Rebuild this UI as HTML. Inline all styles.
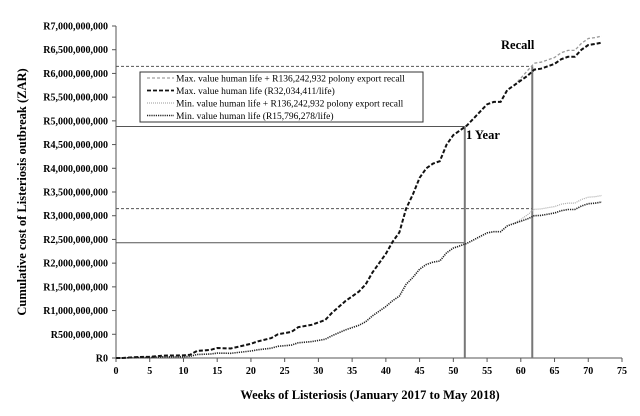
<!DOCTYPE html>
<html><head><meta charset="utf-8"><style>
html,body{margin:0;padding:0;background:#fff;}
svg{display:block;font-family:"Liberation Serif",serif;}
</style></head><body>
<svg id="chart" width="640" height="416" viewBox="0 0 640 416" xmlns="http://www.w3.org/2000/svg">
<g id="yaxis"></g>
<g id="xaxis"></g>
<g id="refs"></g>
<g id="series"></g>
<text transform="translate(26,192) rotate(-90)" text-anchor="middle" font-size="12.5" font-weight="bold">Cumulative cost of Listeriosis outbreak (ZAR)</text>
<text x="370" y="399" text-anchor="middle" font-size="12.5" font-weight="bold">Weeks of Listeriosis (January 2017 to May 2018)</text>
<text x="501" y="49" font-size="12.5" font-weight="bold">Recall</text>
<text x="466" y="139" font-size="12.5" font-weight="bold">1 Year</text>
<g>
<rect x="140" y="72" width="283" height="50" fill="#fff" stroke="#333" stroke-width="1"/>
<g><line x1="147" y1="78" x2="174" y2="78" stroke="#888" stroke-width="1" stroke-dasharray="3,2"/><text x="176" y="81.5" font-size="9.5">Max. value human life + R136,242,932 polony export recall</text></g>
<g><line x1="147" y1="90.5" x2="174" y2="90.5" stroke="#111" stroke-width="1.8" stroke-dasharray="4,2"/><text x="176" y="94" font-size="9.5">Max. value human life (R32,034,411/life)</text></g>
<g><line x1="147" y1="103" x2="174" y2="103" stroke="#999" stroke-width="1" stroke-dasharray="1,1"/><text x="176" y="106.5" font-size="9.5">Min. value human life + R136,242,932 polony export recall</text></g>
<g><line x1="147" y1="115.5" x2="174" y2="115.5" stroke="#222" stroke-width="1.5" stroke-dasharray="1.2,1"/><text x="176" y="119" font-size="9.5">Min. value human life (R15,796,278/life)</text></g>
</g>
</svg>
<script>
const yTicks=[0,500,1000,1500,2000,2500,3000,3500,4000,4500,5000,5500,6000,6500,7000];
const yTickLabels=["R0","R500,000,000","R1,000,000,000","R1,500,000,000","R2,000,000,000","R2,500,000,000","R3,000,000,000","R3,500,000,000","R4,000,000,000","R4,500,000,000","R5,000,000,000","R5,500,000,000","R6,000,000,000","R6,500,000,000","R7,000,000,000"];
const xTicks=[0,5,10,15,20,25,30,35,40,45,50,55,60,65,70,75];
const weeks=[0,1,3,5,7,10,11,12,14,15,17,20,21,23,24,26,27,29,31,32,34,36,37,38,40,41,42,43,44,45,46,47,48,49,50,51,52,53,54,55,56,57,58,59,60,61,62,63,64,65,66,67,68,69,70,71,72];
const maxLife=[0,0,20,25,50,55,70,150,170,210,200,300,350,420,500,550,650,700,800,950,1200,1400,1550,1800,2200,2450,2650,3150,3450,3800,4000,4100,4150,4500,4700,4800,4900,5050,5200,5350,5400,5400,5650,5750,5850,5950,6080,6100,6150,6200,6300,6350,6350,6500,6600,6620,6650];
const minLife=[0,0,10,12,25,27,35,74,84,104,99,148,173,207,247,271,320,345,395,468,592,690,764,888,1085,1208,1306,1553,1700,1873,1972,2021,2046,2219,2317,2366,2416,2490,2564,2638,2662,2662,2786,2835,2884,2933,3000,3007,3032,3057,3106,3131,3131,3205,3254,3264,3290];
const recallWeeks=[59,60,61,62,63,64,65,66,67,68,69,70,71,72];
const maxRecall=[5750,5900,6060,6216,6236,6286,6336,6436,6486,6486,6636,6736,6756,6786];
const minRecall=[2835,2920,3020,3136,3143,3168,3193,3242,3267,3267,3341,3390,3400,3426];
const refMaxRecall=6150, refMaxYear=4880, refMinRecall=3150, refMinYear=2430;
const yearWeek=51.7, recallWeek=61.7;
const NS="http://www.w3.org/2000/svg";
const X=w=>116+w*(622-116)/75;
const Y=v=>358-v*(358-26)/7000;
function el(tag,attrs,parent){const e=document.createElementNS(NS,tag);for(const k in attrs)e.setAttribute(k,attrs[k]);parent.appendChild(e);return e;}
const ya=document.getElementById('yaxis'),xa=document.getElementById('xaxis'),rf=document.getElementById('refs'),sr=document.getElementById('series');
el('line',{x1:116,y1:26,x2:116,y2:358,stroke:'#555','stroke-width':1},ya);
yTicks.forEach((t,i)=>{
 const tk=el('line',{x1:112,y1:Y(t),x2:116,y2:Y(t),stroke:'#555'},ya);
 
 
 const tx=el('text',{x:108,y:Y(t)+3.5,'text-anchor':'end','font-size':10,'font-weight':'bold'},ya);
 tx.textContent=yTickLabels[i];
 
 
});
el('line',{x1:116,y1:358,x2:622,y2:358,stroke:'#555','stroke-width':1},xa);
xTicks.forEach(t=>{
 const tk=el('line',{x1:X(t),y1:358,x2:X(t),y2:362,stroke:'#555'},xa);
 
 
 const tx=el('text',{x:X(t),y:374,'text-anchor':'middle','font-size':10,'font-weight':'bold'},xa);
 tx.textContent=t;
 
 
});
function hline(v,w,dash,name){const l=el('line',{x1:116,y1:Y(v),x2:X(w),y2:Y(v),stroke:'#555','stroke-width':1,'stroke-dasharray':dash},rf);
 
 }
hline(refMaxRecall,recallWeek,'3,2','max-recall-reference');
hline(refMaxYear,yearWeek,'none','max-one-year-reference');
hline(refMinRecall,recallWeek,'3,2','min-recall-reference');
hline(refMinYear,yearWeek,'none','min-one-year-reference');
const v1=el('line',{x1:X(yearWeek),y1:Y(refMaxYear),x2:X(yearWeek),y2:358,stroke:'#777','stroke-width':2},rf);


const v2=el('line',{x1:X(recallWeek),y1:Y(refMaxRecall),x2:X(recallWeek),y2:358,stroke:'#777','stroke-width':2},rf);


function path(xs,vs,st,name){const d=xs.map((w,i)=>(i?'L':'M')+X(w).toFixed(1)+','+Y(vs[i]).toFixed(1)).join(' ');
 const p=el('path',Object.assign({d:d,fill:'none'},st),sr);
 
 }
path(recallWeeks,maxRecall,{stroke:'#999','stroke-width':1.3,'stroke-dasharray':'3,2'},'max-recall-line');
path(recallWeeks,minRecall,{stroke:'#aaa','stroke-width':1.2,'stroke-dasharray':'1,1'},'min-recall-line');
path(weeks,maxLife,{stroke:'#111','stroke-width':2,'stroke-dasharray':'4,2'},'max-life-line');
path(weeks,minLife,{stroke:'#222','stroke-width':1.6,'stroke-dasharray':'1.2,1'},'min-life-line');
</script>
</body></html>
